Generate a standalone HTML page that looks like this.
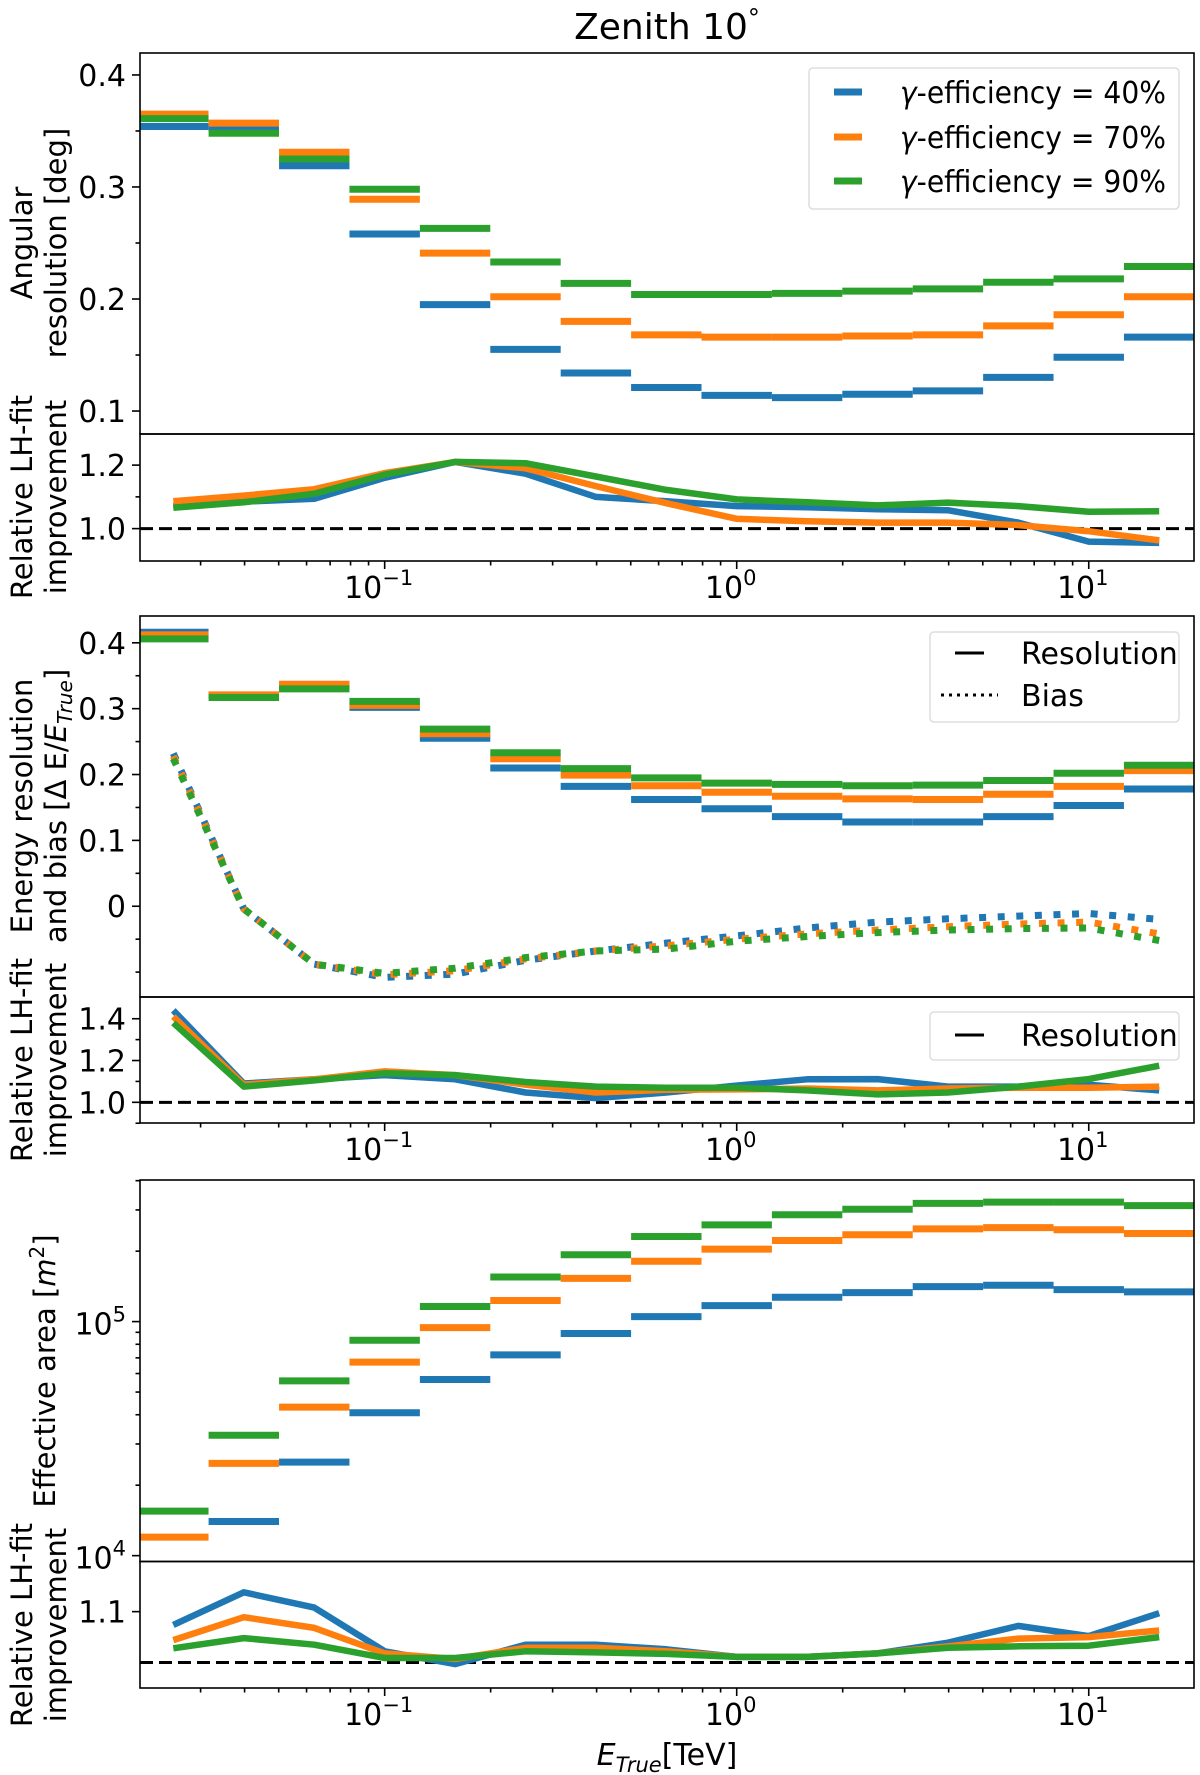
<!DOCTYPE html>
<html><head><meta charset="utf-8"><style>
html,body{margin:0;padding:0;background:#fff;}
svg{display:block;font-family:"DejaVu Sans","Liberation Sans",sans-serif;}
</style></head><body>
<svg id="fig" xmlns="http://www.w3.org/2000/svg" width="1200" height="1775" viewBox="0 0 1200 1775">
<rect x="0" y="0" width="1200" height="1775" fill="#fff"/>
<text x="667" y="39" font-size="36" text-anchor="middle">Zenith 10<tspan dy="-13" font-size="24">°</tspan></text>
</svg>
<script>
// ---------- data ----------
const binCenters = [0.0251,0.0398,0.0631,0.1,0.1585,0.2512,0.3981,0.631,1.0,1.585,2.512,3.981,6.31,10.0,15.85];
const angRes40 = [0.354,0.352,0.319,0.258,0.195,0.155,0.134,0.121,0.114,0.112,0.115,0.118,0.130,0.148,0.166];
const angRes70 = [0.365,0.357,0.331,0.289,0.241,0.202,0.180,0.168,0.166,0.166,0.167,0.168,0.176,0.186,0.202];
const angRes90 = [0.361,0.348,0.325,0.298,0.263,0.233,0.214,0.204,0.204,0.205,0.207,0.209,0.215,0.218,0.229];
const angImp40 = [1.07,1.085,1.094,1.16,1.21,1.173,1.10,1.086,1.071,1.067,1.061,1.058,1.019,0.959,0.955];
const angImp70 = [1.086,1.104,1.124,1.175,1.21,1.19,1.134,1.08,1.031,1.023,1.019,1.019,1.011,0.992,0.963];
const angImp90 = [1.066,1.083,1.11,1.17,1.21,1.206,1.164,1.122,1.092,1.083,1.073,1.082,1.071,1.053,1.055];
const eRes40 = [0.416,0.320,0.334,0.302,0.255,0.210,0.182,0.162,0.148,0.136,0.128,0.128,0.136,0.153,0.178];
const eRes70 = [0.412,0.321,0.337,0.305,0.262,0.224,0.199,0.183,0.173,0.167,0.163,0.162,0.170,0.182,0.206];
const eRes90 = [0.406,0.317,0.330,0.311,0.269,0.233,0.209,0.195,0.187,0.185,0.183,0.184,0.191,0.202,0.214];
const eBias40 = [0.232,-0.004,-0.088,-0.108,-0.103,-0.082,-0.068,-0.056,-0.045,-0.033,-0.024,-0.019,-0.015,-0.011,-0.020];
const eBias70 = [0.228,-0.004,-0.088,-0.104,-0.098,-0.080,-0.068,-0.060,-0.050,-0.042,-0.036,-0.031,-0.027,-0.024,-0.042];
const eBias90 = [0.224,-0.004,-0.088,-0.102,-0.094,-0.078,-0.068,-0.065,-0.053,-0.046,-0.040,-0.036,-0.034,-0.033,-0.052];
const eImp40 = [1.44,1.09,1.11,1.13,1.11,1.047,1.02,1.047,1.08,1.11,1.111,1.075,1.075,1.084,1.057];
const eImp70 = [1.41,1.084,1.11,1.148,1.13,1.085,1.047,1.06,1.062,1.066,1.057,1.066,1.07,1.07,1.075];
const eImp90 = [1.38,1.075,1.105,1.139,1.13,1.097,1.075,1.07,1.07,1.057,1.038,1.047,1.075,1.111,1.175];
const aeff40 = [9000,14000,25100,40800,56600,72100,88900,105000,117000,127000,133000,141000,143000,137000,134000];
const aeff70 = [12000,24800,43100,67100,94200,123000,153000,181000,204000,222000,235000,249000,252000,247000,238000];
const aeff90 = [15500,32700,55800,83200,116000,155000,193000,231000,259000,286000,302000,320000,324000,324000,313000];
const aeffImp40 = [1.074,1.138,1.108,1.022,0.997,1.035,1.035,1.026,1.011,1.011,1.018,1.039,1.072,1.052,1.097];
const aeffImp70 = [1.044,1.089,1.068,1.018,1.007,1.029,1.029,1.022,1.011,1.011,1.018,1.032,1.047,1.05,1.063];
const aeffImp90 = [1.028,1.048,1.035,1.009,1.009,1.022,1.02,1.017,1.011,1.011,1.018,1.029,1.032,1.033,1.05];
const seriesColors = ['#1f77b4','#ff7f0e','#2ca02c'];
const legendLabels = ['40%','70%','90%'];
const xTickDecades = [-1,0,1];
const yTicks1 = [0.1,0.2,0.3,0.4];
const yTicks1s = [1.0,1.2];
const yTicks2 = [0,0.1,0.2,0.3,0.4];
const yTicks2s = [1.0,1.2,1.4];
const yTicks3 = [4,5];
const yTicks3s = [1.1];

// ---------- helpers ----------
const NS='http://www.w3.org/2000/svg';
const svg=document.getElementById('fig');
const TF=30, LF=29;
function mk(tag,attrs,parent){const e=document.createElementNS(NS,tag);for(const k in attrs)e.setAttribute(k,attrs[k]);(parent||svg).appendChild(e);return e;}
const X0=140,X1=1194,LMIN=-1.695,LMAX=1.299;
function xs(v){return X0+(Math.log10(v)-LMIN)/(LMAX-LMIN)*(X1-X0);}
function linY(top,bot,a,b){return v=>bot-(v-a)/(b-a)*(bot-top);}
function logY(top,bot,a,b){return v=>bot-(Math.log10(v)-a)/(b-a)*(bot-top);}
const HW=Math.pow(10,0.1);
let clipN=0;
function panel(name,top,bot){
  const id='clip'+(clipN++);
  const cp=mk('clipPath',{id:id});
  const r=mk('rect',{x:X0,y:top,width:X1-X0,height:bot-top},cp);
  
  
  const g=mk('g',{'clip-path':'url(#'+id+')'});
  
  
  return g;
}
function frame(name,top,bot){
  const f=mk('rect',{x:X0,y:top,width:X1-X0,height:bot-top,fill:'none',stroke:'#000','stroke-width':1.6});
  
  
}
function steps(g,vals,y,color,name){
  vals.forEach((v,i)=>{
    const c=binCenters[i];
    const l=mk('line',{x1:xs(c/HW),x2:xs(c*HW),y1:y(v),y2:y(v),stroke:color,'stroke-width':7},g);
    
    
  });
}
function curve(g,vals,y,color,name,dotted){
  const pts=vals.map((v,i)=>xs(binCenters[i]).toFixed(1)+','+y(v).toFixed(1)).join(' ');
  const a={points:pts,fill:'none',stroke:color,'stroke-width':dotted?7:6.5,'stroke-linejoin':'round'};
  if(dotted)a['stroke-dasharray']='7 11.6';
  const p=mk('polyline',a,g);
  
  
}
function dashedOne(g,y,name){
  const l=mk('line',{x1:X0,x2:X1,y1:y(1.0),y2:y(1.0),stroke:'#000','stroke-width':3,'stroke-dasharray':'13 6'},g);
  
  
}
function yTick(name,yy,len){
  const t=mk('line',{x1:X0-len,x2:X0,y1:yy,y2:yy,stroke:'#000','stroke-width':1.6});
  
  
}
function yLabel(name,yy,txt){
  const t=mk('text',{x:X0-14,y:yy+11,'font-size':TF,'text-anchor':'end'});
  t.textContent=txt;
  
  
}
function xTicks(name,bot,labels){
  for(let d=-2;d<=1;d++){for(let m=1;m<=9;m++){
    const v=m*Math.pow(10,d);const lv=Math.log10(v);
    if(lv<LMIN-1e-6||lv>LMAX+1e-6)continue;
    const len=m===1?8:4.5;
    const t=mk('line',{x1:xs(v),x2:xs(v),y1:bot,y2:bot+len,stroke:'#000','stroke-width':1.6});
    
    
  }}
  if(!labels)return;
  xTickDecades.forEach(d=>{
    const t=mk('text',{x:xs(Math.pow(10,d))-6,y:bot+37,'font-size':TF,'text-anchor':'middle'});
    
    
    const a=mk('tspan',{},t);a.textContent='10';
    const b=mk('tspan',{dy:-13,'font-size':21});b.textContent=d<0?'\u22121':String(d);
    t.appendChild(b);
  });
}
function rotLabel(name,x,yc,lines){
  const t=mk('text',{transform:'translate('+x+','+yc+') rotate(-90)','font-size':LF,'text-anchor':'middle'});
  
  
  lines.forEach((ln,i)=>{const s=mk('tspan',{x:0,y:i*34},t);s.innerHTML=ln;});
}

// ---------- panel 1: angular resolution ----------
const y1=linY(53,434,0.0795,0.4196);
const g1=panel('angular-resolution',53,434);
[angRes40,angRes70,angRes90].forEach((s,k)=>steps(g1,s,y1,seriesColors[k],'ang-res-'+legendLabels[k].replace('%','')));
frame('angular-resolution',53,434);
yTicks1.forEach(v=>{yTick('ang-res-y-tick',y1(v),8);yLabel('ang-res-y-tick-label',y1(v),v.toFixed(1));});
[0.15,0.25,0.35].forEach(v=>yTick('ang-res-y-minor-tick',y1(v),4.5));
rotLabel('ang-res-y-axis-title',32,243,['Angular','resolution [deg]']);

const y1s=linY(434,561,0.898,1.298);
const g1s=panel('angular-improvement',434,561);
dashedOne(g1s,y1s,'ang-imp');
[angImp40,angImp70,angImp90].forEach((s,k)=>curve(g1s,s,y1s,seriesColors[k],'ang-imp-line-'+legendLabels[k].replace('%','')));
frame('angular-improvement',434,561);
yTicks1s.forEach(v=>{yTick('ang-imp-y-tick',y1s(v),8);yLabel('ang-imp-y-tick-label',y1s(v),v.toFixed(1));});
yTick('ang-imp-y-minor-tick',y1s(1.1),4.5);
xTicks('ang-imp',561,true);
rotLabel('ang-imp-y-axis-title',32,497,['Relative LH-fit','improvement']);

// legend 1
(function(){
  const lg=mk('g',{});
  
  
  const b=mk('rect',{x:809,y:68,width:370,height:141,rx:4,fill:'#fff',stroke:'#ddd','stroke-width':1.5},lg);
  
  
  [92,137,181].forEach((yy,k)=>{
    const h=mk('line',{x1:834,x2:862,y1:yy,y2:yy,stroke:seriesColors[k],'stroke-width':7},lg);
    
    
    const t=mk('text',{x:900,y:yy+11,'font-size':TF,textLength:266,lengthAdjust:'spacingAndGlyphs'},lg);
    t.innerHTML='<tspan font-style="italic">γ</tspan>-efficiency = '+legendLabels[k];
    
    
  });
})();

// ---------- panel 2: energy resolution & bias ----------
const y2=linY(616,997,-0.1378,0.4407);
const g2=panel('energy-resolution',616,997);
[eRes40,eRes70,eRes90].forEach((s,k)=>steps(g2,s,y2,seriesColors[k],'e-res-'+legendLabels[k].replace('%','')));
[eBias40,eBias70,eBias90].forEach((s,k)=>curve(g2,s,y2,seriesColors[k],'e-bias-line-'+legendLabels[k].replace('%',''),true));
frame('energy-resolution',616,997);
yTicks2.forEach(v=>{yTick('e-res-y-tick',y2(v),8);yLabel('e-res-y-tick-label',y2(v),v===0?'0':v.toFixed(1));});
[-0.1,-0.05,0.05,0.15,0.25,0.35].forEach(v=>yTick('e-res-y-minor-tick',y2(v),4.5));
rotLabel('e-res-y-axis-title',32,806,['Energy resolution','and bias [Δ E/<tspan font-style="italic">E</tspan><tspan font-style="italic" font-size="20" dy="6">True</tspan><tspan dy="-6">]</tspan>']);

const y2s=linY(997,1123,0.901,1.504);
const g2s=panel('energy-improvement',997,1123);
dashedOne(g2s,y2s,'e-imp');
[eImp40,eImp70,eImp90].forEach((s,k)=>curve(g2s,s,y2s,seriesColors[k],'e-imp-line-'+legendLabels[k].replace('%','')));
frame('energy-improvement',997,1123);
yTicks2s.forEach(v=>{yTick('e-imp-y-tick',y2s(v),8);yLabel('e-imp-y-tick-label',y2s(v),v.toFixed(1));});
[0.9,1.1,1.3].forEach(v=>yTick('e-imp-y-minor-tick',y2s(v),4.5));
xTicks('e-imp',1123,true);
rotLabel('e-imp-y-axis-title',32,1060,['Relative LH-fit','improvement']);

// legends 2
(function(){
  const lg=mk('g',{});
  
  
  const b=mk('rect',{x:930,y:632,width:249,height:90,rx:4,fill:'#fff',stroke:'#ddd','stroke-width':1.5},lg);
  
  
  const h1=mk('line',{x1:955,x2:984,y1:653,y2:653,stroke:'#000','stroke-width':3},lg);
  
  
  const t1=mk('text',{x:1021,y:664,'font-size':TF},lg);t1.textContent='Resolution';
  
  
  const h2=mk('line',{x1:941,x2:998,y1:695,y2:695,stroke:'#000','stroke-width':3,'stroke-dasharray':'3 5'},lg);
  
  
  const t2=mk('text',{x:1021,y:706,'font-size':TF},lg);t2.textContent='Bias';
  
  
  const b2=mk('rect',{x:930,y:1012,width:249,height:48,rx:4,fill:'#fff',stroke:'#ddd','stroke-width':1.5},lg);
  
  
  const h3=mk('line',{x1:955,x2:984,y1:1035,y2:1035,stroke:'#000','stroke-width':3},lg);
  
  
  const t3=mk('text',{x:1021,y:1046,'font-size':TF},lg);t3.textContent='Resolution';
  
  
})();

// ---------- panel 3: effective area ----------
const y3=logY(1180,1561.5,3.975,5.605);
const g3=panel('effective-area',1180,1561.5);
[aeff40,aeff70,aeff90].forEach((s,k)=>steps(g3,s,y3,seriesColors[k],'aeff-'+legendLabels[k].replace('%','')));
frame('effective-area',1180,1561.5);
yTicks3.forEach(d=>{
  yTick('aeff-y-tick',y3(Math.pow(10,d)),8);
  const t=mk('text',{x:X0-14,y:y3(Math.pow(10,d))+13,'font-size':TF,'text-anchor':'end'});
  t.innerHTML='10<tspan dy="-13" font-size="21">'+d+'</tspan>';
  
  
});
[2e4,3e4,4e4,5e4,6e4,7e4,8e4,9e4,2e5,3e5,4e5].forEach(v=>{if(Math.log10(v)<5.605)yTick('aeff-y-minor-tick',y3(v),4.5);});
rotLabel('aeff-y-axis-title',55,1371,['Effective area [<tspan font-style="italic">m</tspan><tspan dy="-11" font-size="20">2</tspan><tspan dy="11">]</tspan>']);

const y3s=linY(1561.5,1688,0.950,1.1985);
const g3s=panel('aeff-improvement',1561.5,1688);
dashedOne(g3s,y3s,'aeff-imp');
[aeffImp40,aeffImp70,aeffImp90].forEach((s,k)=>curve(g3s,s,y3s,seriesColors[k],'aeff-imp-line-'+legendLabels[k].replace('%','')));
frame('aeff-improvement',1561.5,1688);
yTicks3s.forEach(v=>{yTick('aeff-imp-y-tick',y3s(v),8);yLabel('aeff-imp-y-tick-label',y3s(v),v.toFixed(1));});
xTicks('aeff-imp',1688,true);
rotLabel('aeff-imp-y-axis-title',32,1625,['Relative LH-fit','improvement']);

(function(){
  const t=mk('text',{x:667,y:1765,'font-size':TF,'text-anchor':'middle'});
  t.innerHTML='<tspan font-style="italic">E</tspan><tspan font-style="italic" font-size="21" dy="7">True</tspan><tspan dy="-7">[TeV]</tspan>';
  
  
})();
</script>
</body></html>
